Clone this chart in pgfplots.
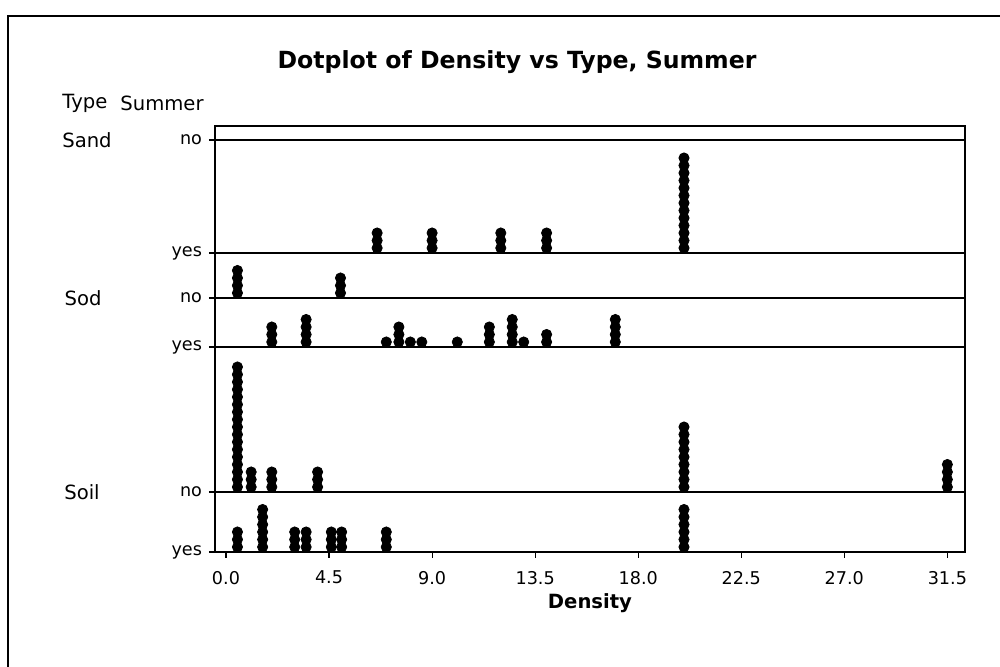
\documentclass[border=0pt]{standalone}
\usepackage{pgfplots}
\pgfplotsset{compat=1.18}
\usepackage{fontspec}
\setmainfont{DejaVu Sans}
\begin{document}
\begin{tikzpicture}
\useasboundingbox (-107.5pt,-57.5pt) rectangle (392.5pt,276pt);
\draw[line width=0.6pt] (-103.5pt,-57.5pt) -- (-103.5pt,268pt) -- (392.5pt,268pt);
\begin{axis}[
  scale only axis, width=375pt, height=213pt,
  at={(0pt,0pt)}, anchor=south west,
  xmin=-0.48, xmax=32.27, ymin=0, ymax=426,
  xtick={0,4.5,9,13.5,18,22.5,27,31.5},
  xticklabels={0.0,4.5,9.0,13.5,18.0,22.5,27.0,31.5},
  ytick={0,60,205,254,299,412},
  yticklabels={yes,no,yes,no,yes,no},
  tick align=outside, xtick pos=bottom, ytick pos=left,
  major tick length=3pt,
  ymajorgrids, grid style={black, line width=0.7pt},
  axis line style={line width=0.7pt},
  tick style={black, line width=0.6pt},
  ticklabel style={font=\fontsize{8.8}{10}\selectfont},
  xticklabel style={yshift=-3pt},
  xlabel={Density},
  xlabel style={font=\bfseries\fontsize{9.8}{11}\selectfont, yshift=2pt},
  cycle list={{black, mark=*}},
  every axis plot post/.append style={only marks, mark=*, mark size=2.55pt, draw=black, fill=black},
  clip=false,
]
% Sand, yes (baseline 299)
\addplot coordinates {
(6.6,304) (6.6,311.5) (6.6,319)
(9.0,304) (9.0,311.5) (9.0,319)
(12.0,304) (12.0,311.5) (12.0,319)
(14.0,304) (14.0,311.5) (14.0,319)
(20.0,304) (20.0,311.5) (20.0,319) (20.0,326.5) (20.0,334) (20.0,341.5) (20.0,349)
(20.0,356.5) (20.0,364) (20.0,371.5) (20.0,379) (20.0,386.5) (20.0,394)
};
% Sod, no (baseline 254)
\addplot coordinates {
(0.5,259) (0.5,266.5) (0.5,274) (0.5,281.5)
(5.0,259) (5.0,266.5) (5.0,274)
};
% Sod, yes (baseline 205)
\addplot coordinates {
(2.0,210) (2.0,217.5) (2.0,225)
(3.5,210) (3.5,217.5) (3.5,225) (3.5,232.5)
(7.0,210)
(7.55,210) (7.55,217.5) (7.55,225)
(8.05,210)
(8.55,210)
(10.1,210)
(11.5,210) (11.5,217.5) (11.5,225)
(12.5,210) (12.5,217.5) (12.5,225) (12.5,232.5)
(13.0,210)
(14.0,210) (14.0,217.5)
(17.0,210) (17.0,217.5) (17.0,225) (17.0,232.5)
};
% Soil, no (baseline 60)
\addplot coordinates {
(0.5,65) (0.5,72.5) (0.5,80) (0.5,87.5) (0.5,95) (0.5,102.5) (0.5,110) (0.5,117.5)
(0.5,125) (0.5,132.5) (0.5,140) (0.5,147.5) (0.5,155) (0.5,162.5) (0.5,170) (0.5,177.5) (0.5,185)
(1.1,65) (1.1,72.5) (1.1,80)
(2.0,65) (2.0,72.5) (2.0,80)
(4.0,65) (4.0,72.5) (4.0,80)
(20.0,65) (20.0,72.5) (20.0,80) (20.0,87.5) (20.0,95) (20.0,102.5) (20.0,110) (20.0,117.5) (20.0,125)
(31.5,65) (31.5,72.5) (31.5,80) (31.5,87.5)
};
% Soil, yes (baseline 0)
\addplot coordinates {
(0.5,5) (0.5,12.5) (0.5,20)
(1.6,5) (1.6,12.5) (1.6,20) (1.6,27.5) (1.6,35) (1.6,42.5)
(3.0,5) (3.0,12.5) (3.0,20)
(3.5,5) (3.5,12.5) (3.5,20)
(4.6,5) (4.6,12.5) (4.6,20)
(5.05,5) (5.05,12.5) (5.05,20)
(7.0,5) (7.0,12.5) (7.0,20)
(20.0,5) (20.0,12.5) (20.0,20) (20.0,27.5) (20.0,35) (20.0,42.5)
};
\end{axis}
\node[font=\bfseries\fontsize{11.8}{13}\selectfont] at (151pt,245pt) {Dotplot of Density vs Type, Summer};
\node[font=\fontsize{9.8}{11}\selectfont, anchor=west, inner sep=0pt] at (-76.5pt,224.5pt) {Type};
\node[font=\fontsize{9.8}{11}\selectfont, anchor=west, inner sep=0pt] at (-47.5pt,224.5pt) {Summer};
\node[font=\fontsize{9.8}{11}\selectfont] at (-64pt,206pt) {Sand};
\node[font=\fontsize{9.8}{11}\selectfont] at (-66pt,127pt) {Sod};
\node[font=\fontsize{9.8}{11}\selectfont] at (-66.5pt,30pt) {Soil};
\end{tikzpicture}
\end{document}
